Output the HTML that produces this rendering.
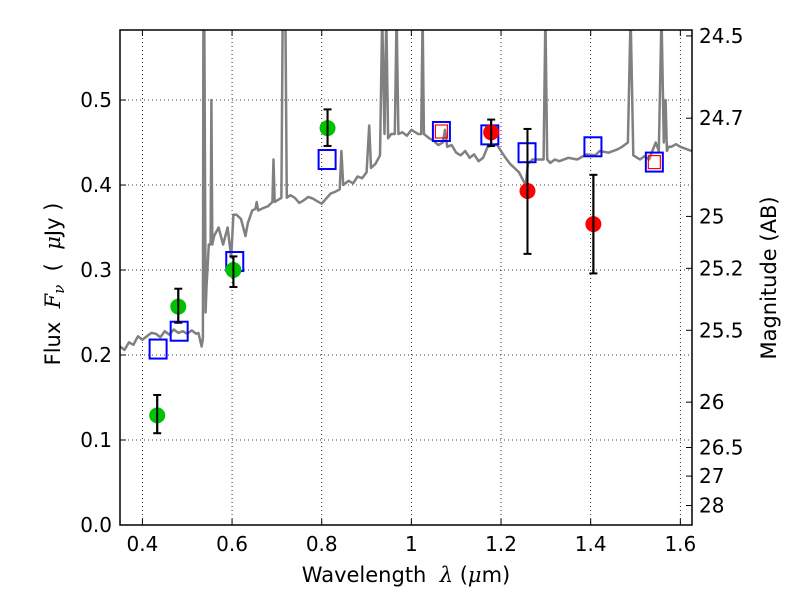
<!DOCTYPE html>
<html><head><meta charset="utf-8"><style>
body{margin:0;background:#fff}
svg text{font-family:"DejaVu Sans","Liberation Sans",sans-serif;fill:#000;white-space:pre}
</style></head><body>
<svg id="chart" width="800" height="600" viewBox="0 0 800 600" xmlns="http://www.w3.org/2000/svg">
<rect x="0" y="0" width="800" height="600" fill="#fff"/>
<g id="grid"></g>
<g id="spec"></g>
<g id="marks"></g>
<g id="axes"></g>
<text x="406" y="582" font-size="21" text-anchor="middle" xml:space="preserve">Wavelength  <tspan font-style="italic" font-family="DejaVu Serif, serif">λ</tspan> (<tspan font-style="italic" font-family="DejaVu Serif, serif">μ</tspan>m)</text>
<text transform="translate(60,284) rotate(-90)" font-size="21" text-anchor="middle" xml:space="preserve">Flux  <tspan font-style="italic" font-family="DejaVu Serif, serif">F</tspan><tspan font-style="italic" font-size="15" dy="4" font-family="DejaVu Serif, serif">ν</tspan><tspan dy="-4">  (  </tspan><tspan font-style="italic" font-family="DejaVu Serif, serif">μ</tspan>Jy )</text>
<text transform="translate(776,278) rotate(-90)" font-size="21" text-anchor="middle">Magnitude (AB)</text>
</svg>
<script>
const xTicks=[0.4,0.6,0.8,1.0,1.2,1.4,1.6];
const xTickLabels=["0.4","0.6","0.8","1","1.2","1.4","1.6"];
const yTicks=[0,0.1,0.2,0.3,0.4,0.5];
const yTickLabels=["0.0","0.1","0.2","0.3","0.4","0.5"];
const magTicks=[24.5,24.7,25,25.2,25.5,26,26.5,27,28];
const magTickLabels=["24.5","24.7","25","25.2","25.5","26","26.5","27","28"];
const specWave=[0.35,0.36,0.37,0.38,0.39,0.40,0.41,0.42,0.43,0.44,0.45,0.46,0.47,0.48,0.49,0.50,0.51,0.52,0.525,0.532,0.535,0.536,0.538,0.541,0.543,0.548,0.552,0.554,0.556,0.56,0.57,0.58,0.59,0.598,0.603,0.61,0.62,0.63,0.635,0.645,0.652,0.655,0.658,0.67,0.68,0.69,0.6925,0.695,0.71,0.713,0.716,0.719,0.722,0.73,0.74,0.75,0.76,0.77,0.78,0.79,0.80,0.81,0.82,0.83,0.84,0.844,0.848,0.86,0.87,0.88,0.89,0.90,0.906,0.91,0.92,0.93,0.935,0.94,0.944,0.948,0.955,0.963,0.967,0.971,0.98,0.99,1.0,1.015,1.022,1.025,1.028,1.04,1.05,1.06,1.07,1.075,1.08,1.09,1.10,1.11,1.12,1.13,1.14,1.15,1.16,1.17,1.19,1.20,1.21,1.22,1.23,1.24,1.25,1.255,1.26,1.27,1.285,1.295,1.299,1.303,1.31,1.32,1.33,1.35,1.37,1.38,1.39,1.41,1.42,1.44,1.46,1.47,1.483,1.489,1.495,1.51,1.52,1.53,1.545,1.552,1.558,1.563,1.567,1.57,1.574,1.58,1.59,1.6,1.625];
const specFlux=[0.21,0.206,0.215,0.212,0.222,0.218,0.222,0.226,0.225,0.221,0.228,0.224,0.23,0.226,0.228,0.225,0.229,0.225,0.226,0.21,0.22,0.6,0.6,0.25,0.28,0.33,0.33,0.5,0.33,0.34,0.35,0.33,0.35,0.315,0.365,0.365,0.36,0.34,0.355,0.37,0.372,0.38,0.37,0.373,0.375,0.38,0.43,0.38,0.385,0.6,0.6,0.6,0.385,0.388,0.385,0.379,0.382,0.386,0.384,0.381,0.378,0.384,0.39,0.392,0.395,0.44,0.4,0.405,0.402,0.41,0.408,0.415,0.47,0.42,0.425,0.435,0.6,0.46,0.6,0.455,0.46,0.46,0.6,0.46,0.462,0.458,0.465,0.46,0.46,0.6,0.46,0.455,0.452,0.447,0.45,0.465,0.445,0.447,0.438,0.435,0.44,0.432,0.436,0.428,0.432,0.445,0.448,0.44,0.432,0.425,0.42,0.415,0.405,0.4,0.425,0.43,0.43,0.43,0.6,0.43,0.426,0.43,0.428,0.432,0.43,0.433,0.436,0.435,0.44,0.438,0.442,0.445,0.45,0.6,0.435,0.43,0.434,0.43,0.45,0.44,0.6,0.45,0.5,0.44,0.445,0.445,0.448,0.445,0.44];
const greenWave=[0.433,0.480,0.603,0.813];
const greenFlux=[0.129,0.257,0.300,0.467];
const greenLo=[0.108,0.238,0.280,0.446];
const greenHi=[0.153,0.278,0.316,0.489];
const redWave=[1.178,1.259,1.406];
const redFlux=[0.462,0.393,0.354];
const redLo=[0.446,0.319,0.296];
const redHi=[0.477,0.466,0.412];
const modelWave=[0.435,0.482,0.606,0.812,1.067,1.175,1.258,1.405,1.542];
const modelFlux=[0.207,0.228,0.31,0.43,0.463,0.459,0.438,0.445,0.427];
const modelRedWave=[1.067,1.542];
const modelRedFlux=[0.463,0.427];

const L=120,R=692,T=30,B=525,XMIN=0.35,XMAX=1.626,YMIN=0,YMAX=0.5824;
const sx=v=>L+(v-XMIN)/(XMAX-XMIN)*(R-L);
const sy=v=>B-(v-YMIN)/(YMAX-YMIN)*(B-T);
const magToFlux=m=>Math.pow(10,(23.9-m)/2.5);
const NS="http://www.w3.org/2000/svg";
function mk(tag,parent,attrs){const e=document.createElementNS(NS,tag);for(const k in attrs)e.setAttribute(k,attrs[k]);parent.appendChild(e);return e;}
const grid=document.getElementById('grid'),axes=document.getElementById('axes'),spec=document.getElementById('spec'),marks=document.getElementById('marks');

xTicks.forEach((t,i)=>{const x=sx(t);
 let g=mk('line',grid,{x1:x,x2:x,y1:T,y2:B,stroke:'#000','stroke-width':0.8,'stroke-dasharray':'1,3'});
 
 
 mk('line',axes,{x1:x,x2:x,y1:B,y2:B-6,stroke:'#000','stroke-width':1});
 mk('line',axes,{x1:x,x2:x,y1:T,y2:T+6,stroke:'#000','stroke-width':1});
 let tx=mk('text',axes,{x:x,y:B+26,'font-size':20,'text-anchor':'middle'});tx.textContent=xTickLabels[i];
 
 
});
yTicks.forEach((t,i)=>{const y=sy(t);
 let g=mk('line',grid,{x1:L,x2:R,y1:y,y2:y,stroke:'#000','stroke-width':0.8,'stroke-dasharray':'1,3'});
 
 
 mk('line',axes,{x1:L,x2:L+6,y1:y,y2:y,stroke:'#000','stroke-width':1});
 let tx=mk('text',axes,{x:L-8,y:y+7,'font-size':20,'text-anchor':'end'});tx.textContent=yTickLabels[i];
 
 
});
magTicks.forEach((m,i)=>{const y=sy(magToFlux(m));
 mk('line',axes,{x1:R,x2:R-6,y1:y,y2:y,stroke:'#000','stroke-width':1});
 let tx=mk('text',axes,{x:R+7,y:y+7,'font-size':20,'text-anchor':'start'});tx.textContent=magTickLabels[i];
 
 
});

const clip=mk('clipPath',spec,{id:'pc'});mk('rect',clip,{x:L,y:T,width:R-L,height:B-T});
let pts=specWave.map((w,i)=>sx(w).toFixed(1)+','+sy(specFlux[i]).toFixed(1)).join(' ');
let pl=mk('polyline',spec,{points:pts,fill:'none',stroke:'#808080','stroke-width':2.5,'stroke-linejoin':'round','clip-path':'url(#pc)'});



function pts2(wv,fl,lo,hi,color,name){
 wv.forEach((w,i)=>{const x=sx(w);
  let eb=mk('g',marks,{});
  
  
  mk('line',eb,{x1:x,x2:x,y1:sy(lo[i]),y2:sy(hi[i]),stroke:'#000','stroke-width':2});
  mk('line',eb,{x1:x-4,x2:x+4,y1:sy(lo[i]),y2:sy(lo[i]),stroke:'#000','stroke-width':2});
  mk('line',eb,{x1:x-4,x2:x+4,y1:sy(hi[i]),y2:sy(hi[i]),stroke:'#000','stroke-width':2});
 });
 wv.forEach((w,i)=>{
  let c=mk('circle',marks,{cx:sx(w),cy:sy(fl[i]),r:8,fill:color});
  
  
 });
 wv.forEach((w,i)=>{const x=sx(w);
  mk('line',marks,{x1:x,x2:x,y1:sy(lo[i]),y2:sy(hi[i]),stroke:'#000','stroke-width':2});
 });
}
modelWave.forEach((w,i)=>{
 let s=mk('rect',marks,{x:sx(w)-8.5,y:sy(modelFlux[i])-9.5,width:17,height:19,fill:'none',stroke:'#0000ff','stroke-width':2});
 
 
});
modelRedWave.forEach((w,i)=>{
 let s=mk('rect',marks,{x:sx(w)-6,y:sy(modelRedFlux[i])-6.5,width:12,height:13,fill:'none',stroke:'#ff0000','stroke-width':1.2});
 
 
});
pts2(greenWave,greenFlux,greenLo,greenHi,'#00c000','green-photometry');
pts2(redWave,redFlux,redLo,redHi,'#ff0000','red-photometry');

let fr=mk('rect',axes,{x:L,y:T,width:R-L,height:B-T,fill:'none',stroke:'#000','stroke-width':1.5});


</script>
</body></html>
